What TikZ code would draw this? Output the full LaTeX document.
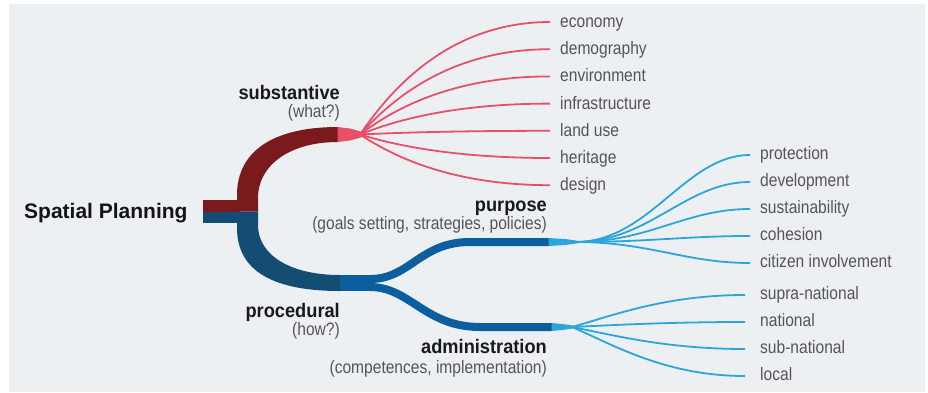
\documentclass[tikz,border=0pt]{standalone}
\usepackage{fontspec}
\setmainfont{Liberation Sans}
\newfontfamily\condfont[FakeStretch=0.865]{Liberation Sans}
\newfontfamily\headfont[FakeStretch=0.93,BoldFont={Liberation Sans Bold}]{Liberation Sans}
\usetikzlibrary{calc}
\definecolor{bg}{HTML}{EDF0F2}
\definecolor{dred}{HTML}{7B1A1C}
\definecolor{pinkr}{HTML}{E8506A}
\definecolor{navy}{HTML}{134D73}
\definecolor{mblue}{HTML}{0B5F9E}
\definecolor{lblue}{HTML}{2AA6DA}
\definecolor{gtext}{HTML}{555555}
\begin{document}
\begin{tikzpicture}[x=1pt,y=-1pt,
  lab/.style={font=\condfont\fontsize{18}{20}\selectfont, text=gtext, inner sep=0pt, anchor=base west},
  sub/.style={font=\condfont\fontsize{18}{20}\selectfont, text=gtext, inner sep=0pt, anchor=base east},
  head/.style={font=\headfont\bfseries\fontsize{19.6}{22}\selectfont, text=black!90, inner sep=0pt, anchor=base east},
  redfan/.style={draw=pinkr, line width=1.8pt},
  bluefan/.style={draw=lblue, line width=1.8pt},
]
\useasboundingbox (0,0) rectangle (928,392);
\fill[white] (0,0) rectangle (928,392);
\fill[bg] (9,4) rectangle (925,392);

% title
\node[font=\bfseries\fontsize{21}{24}\selectfont, inner sep=0pt, anchor=base west, text=black!92] (sp) at (24,218) {Spatial Planning};

% trunk
\fill[dred] (203,200) rectangle (240,211.5);
\fill[navy] (203,211.5) rectangle (240,223);
\fill[dred] (237,211.5) -- (237,195) .. controls (237,150) and (275,127) .. (338,127) -- (338,142) .. controls (290,142) and (258,165) .. (258,198) -- (258,211.5) -- cycle;
\fill[navy] (237,211.5) -- (237,228) .. controls (237,272) and (275,291) .. (340,291) -- (340,275) .. controls (290,275) and (258,255) .. (258,225) -- (258,211.5) -- cycle;

% pink stub
\fill[pinkr] (337.5,127) -- (350,128.5) -- (366,133) -- (366,136) -- (350,140.5) -- (337.5,142) -- cycle;
\coordinate (rf) at (360,134.5);

% procedural branches
\fill[mblue] (339.5,275) rectangle (372,291);
\draw[mblue, line width=8pt] (370,279) .. controls (410,279) and (420,242) .. (470,242) -- (549,242);
\draw[mblue, line width=8pt] (370,287) .. controls (410,287) and (425,327) .. (480,327) -- (552,327);
\fill[lblue] (548.5,238) -- (565,239) -- (581,241.2) -- (581,242.8) -- (565,245) -- (548.5,246) -- cycle;
\fill[lblue] (551.5,323) -- (562,324) -- (578,326.2) -- (578,327.8) -- (562,330) -- (551.5,331) -- cycle;
\coordinate (pf) at (575,242);
\coordinate (af) at (572,327);

% headings
\node[head] (substantive) at (340,99) {substantive};
\node[sub] (what) at (340,117) {(what?)};
\node[head] (purpose) at (547,211) {purpose};
\node[sub] (goals) at (547,229) {(goals setting, strategies, policies)};
\node[head] (procedural) at (340,317) {procedural};
\node[sub] (how) at (340,335) {(how?)};
\node[head] (administration) at (547,353) {administration};
\node[sub] (comp) at (547,373) {(competences, implementation)};

% substantive fan
\foreach \n/\t/\b in {economy/economy/27.5, demography/demography/54.7, environment/environment/81.9, infrastructure/infrastructure/109.1, landuse/land use/136.3, heritage/heritage/163.5, design/design/190.7}{
  \node[lab] (\n) at (560,\b) {\t};
  \draw[redfan] (rf) .. controls +(22,{(\b-5.5-134.5)*0.28}) and +(-110,0) .. ([xshift=-10pt,yshift=5.5pt]\n.base west);
}

% purpose fan
\foreach \n/\t/\b in {protection/protection/159, development/development/186, sustainability/sustainability/213, cohesion/cohesion/240, citizen/citizen involvement/267}{
  \node[lab] (\n) at (760,\b) {\t};
  \draw[bluefan] (pf) .. controls +(75,0) and +(-65,0) .. ([xshift=-10pt,yshift=4pt]\n.base west);
}

% administration fan
\foreach \n/\t/\b in {supra/supra-national/299, national/national/326, subnat/sub-national/353, local/local/380}{
  \node[lab] (\n) at (760,\b) {\t};
  \draw[bluefan] (af) .. controls +(40,{(\b-4-327)*0.35}) and +(-80,0) .. ([xshift=-15pt,yshift=4pt]\n.base west);
}
\end{tikzpicture}
\end{document}
